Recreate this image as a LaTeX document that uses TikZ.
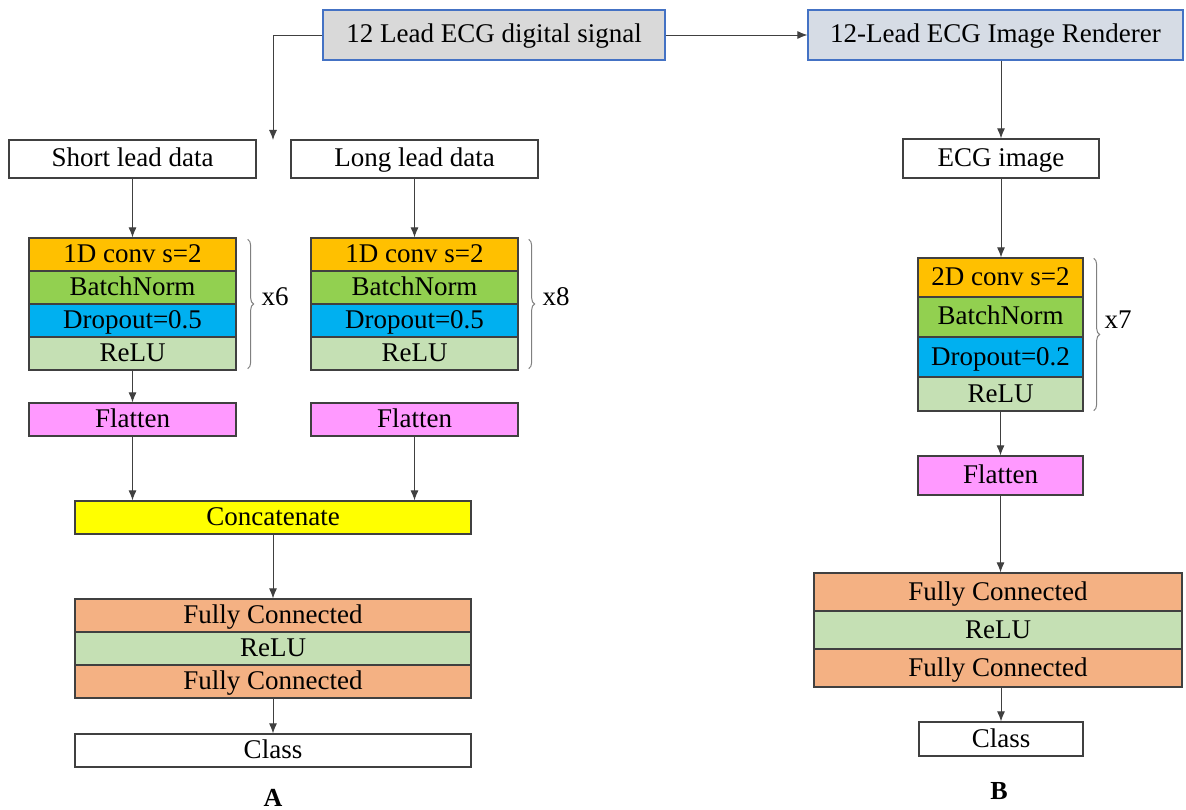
\documentclass[tikz,border=0pt]{standalone}
\usepackage{fontspec}
\setmainfont{Liberation Serif}
\usetikzlibrary{arrows.meta,decorations.pathreplacing}
\definecolor{convc}{HTML}{FFC000}
\definecolor{bnc}{HTML}{92D050}
\definecolor{dropc}{HTML}{00B0F0}
\definecolor{reluc}{HTML}{C5E0B4}
\definecolor{flatc}{HTML}{FF99FF}
\definecolor{catc}{HTML}{FFFF00}
\definecolor{fcc}{HTML}{F4B183}
\definecolor{topc}{HTML}{D9D9D9}
\definecolor{rendc}{HTML}{D6DCE5}
\definecolor{bluec}{HTML}{4472C4}
\definecolor{edgec}{HTML}{404040}
\definecolor{bracec}{HTML}{808080}
\begin{document}
\begin{tikzpicture}[x=1pt,y=-1pt,
  every node/.style={font=\fontsize{27}{32}\selectfont},
  box/.style={draw=edgec, line width=1.3pt, inner sep=0pt, text height=18pt, text depth=2pt},
  topbox/.style={draw=bluec, line width=1.3pt, inner sep=0pt, minimum height=50pt, text height=18pt, text depth=2pt},
  arr/.style={draw=edgec, line width=0.9pt, -{Latex[length=10pt,width=8pt]}},
  brc/.style={draw=bracec, line width=1pt, decorate, decoration={brace, amplitude=6pt}},
  lcol/.style={box, minimum width=207pt, minimum height=33pt},
  rcol/.style={box, minimum width=165pt},
  lbl/.style={font=\fontsize{26}{30}\selectfont\bfseries, anchor=base}
]
\useasboundingbox (0,0) rectangle (1186,810);

% top
\node[topbox, fill=topc, minimum width=342pt] (sig) at (494,35) {12 Lead ECG digital signal};
\node[topbox, fill=rendc, minimum width=375pt] (rend) at (995.5,35) {12-Lead ECG Image Renderer};
\coordinate (split) at (273,140);

% inputs
\node[box, minimum width=247pt, minimum height=38pt] (short) at (132.5,159) {Short lead data};
\node[box, minimum width=247pt, minimum height=38pt] (long) at (414.5,159) {Long lead data};
\node[box, minimum width=196pt, minimum height=39pt] (ecg) at (1001,158.5) {ECG image};

% left stack
\node[lcol, fill=convc] (c1) at (132.5,254.5) {1D conv s=2};
\node[lcol, fill=bnc] (b1) at (132.5,287.5) {BatchNorm};
\node[lcol, fill=dropc] (d1) at (132.5,320.5) {Dropout=0.5};
\node[lcol, fill=reluc] (r1) at (132.5,353.5) {ReLU};
\node[lcol, fill=flatc] (f1) at (132.5,419.5) {Flatten};

% middle stack
\node[lcol, fill=convc] (c2) at (414.5,254.5) {1D conv s=2};
\node[lcol, fill=bnc] (b2) at (414.5,287.5) {BatchNorm};
\node[lcol, fill=dropc] (d2) at (414.5,320.5) {Dropout=0.5};
\node[lcol, fill=reluc] (r2) at (414.5,353.5) {ReLU};
\node[lcol, fill=flatc] (f2) at (414.5,419.5) {Flatten};

% merge
\node[box, fill=catc, minimum width=396pt, minimum height=33pt] (cat) at (273,517.5) {Concatenate};
\node[box, fill=fcc, minimum width=396pt, minimum height=33pt] (fa1) at (273,615.5) {Fully Connected};
\node[box, fill=reluc, minimum width=396pt, minimum height=33pt] (ra) at (273,648.5) {ReLU};
\node[box, fill=fcc, minimum width=396pt, minimum height=33pt] (fa2) at (273,681.5) {Fully Connected};
\node[box, minimum width=396pt, minimum height=33pt] (clsa) at (273,750.5) {Class};
\node[lbl] (la) at (273,806) {A};

% right stack
\node[rcol, fill=convc, minimum height=39pt] (c3) at (1000.5,277.5) {2D conv s=2};
\node[rcol, fill=bnc, minimum height=40pt] (b3) at (1000.5,317) {BatchNorm};
\node[rcol, fill=dropc, minimum height=40pt] (d3) at (1000.5,357) {Dropout=0.2};
\node[rcol, fill=reluc, minimum height=34pt] (r3) at (1000.5,394) {ReLU};
\node[rcol, fill=flatc, minimum height=39pt] (f3) at (1000.5,475.5) {Flatten};
\node[box, fill=fcc, minimum width=368pt, minimum height=38pt] (fb1) at (998,592) {Fully Connected};
\node[box, fill=reluc, minimum width=368pt, minimum height=38pt] (rb) at (998,630) {ReLU};
\node[box, fill=fcc, minimum width=368pt, minimum height=38pt] (fb2) at (998,668) {Fully Connected};
\node[box, minimum width=164pt, minimum height=34pt] (clsb) at (1001,739) {Class};
\node[lbl] (lb) at (999,799) {B};

% braces
\draw[brc] ([xshift=11pt,yshift=-2pt]c1.north east) -- ([xshift=11pt,yshift=2pt]r1.south east);
\node[anchor=west] (x6) at (258,297) {x6};
\draw[brc] ([xshift=10pt,yshift=-2pt]c2.north east) -- ([xshift=10pt,yshift=2pt]r2.south east);
\node[anchor=west] (x8) at (539,297) {x8};
\draw[brc] ([xshift=10pt,yshift=-1pt]c3.north east) -- ([xshift=10pt,yshift=1pt]r3.south east);
\node[anchor=west] (x7) at (1101,320) {x7};

% connectors
\draw[arr] (sig.west) -| (split);
\draw[arr] (sig.east) -- (rend.west);
\draw[arr] (ecg.north |- rend.south) -- (ecg.north);
\draw[arr] (short.south) -- (c1.north);
\draw[arr] (long.south) -- (c2.north);
\draw[arr] (ecg.south) -- (ecg.south |- c3.north);
\draw[arr] (r1.south) -- (f1.north);
\draw[arr] (f1.south) -- (f1.south |- cat.north);
\draw[arr] (f2.south) -- (f2.south |- cat.north);
\draw[arr] (cat.south) -- (fa1.north);
\draw[arr] (fa2.south) -- (clsa.north);
\draw[arr] (r3.south) -- (f3.north);
\draw[arr] (f3.south) -- (f3.south |- fb1.north);
\draw[arr] (fb2.south -| clsb.north) -- (clsb.north);
\end{tikzpicture}
\end{document}
